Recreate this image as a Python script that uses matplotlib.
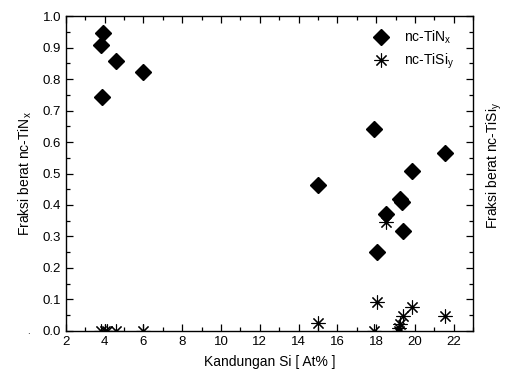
#!/usr/bin/env python3
"""Weight fraction of nc-TiN_x and nc-TiSi_y against Si content."""

import matplotlib
matplotlib.use("Agg")
import matplotlib.pyplot as plt
from matplotlib.ticker import MultipleLocator

plt.rcParams["font.family"] = ["Liberation Sans", "DejaVu Sans"]
plt.rcParams["mathtext.fontset"] = "custom"
plt.rcParams["mathtext.rm"] = "Liberation Sans"
plt.rcParams["mathtext.it"] = "Liberation Sans"

# nc-TiN_x (diamonds)
tin_si = [3.93, 3.81, 4.57, 5.97, 3.85, 14.99, 17.9, 18.48, 18.06,
          19.25, 19.34, 19.36, 19.82, 21.57]
tin_frac = [0.948, 0.908, 0.859, 0.823, 0.742, 0.464, 0.643, 0.371, 0.252,
            0.420, 0.410, 0.317, 0.509, 0.564]

# nc-TiSi_y (stars)
tisi_si = [3.8, 4.0, 4.1, 4.6, 6.0, 14.99, 17.87, 18.06, 18.5,
           19.15, 19.2, 19.25, 19.37, 19.86, 21.55]
tisi_frac = [0.0, 0.0, 0.0, 0.0, 0.0, 0.026, 0.0, 0.091, 0.345,
             0.0, 0.009, 0.021, 0.048, 0.077, 0.046]

x_ticks = [2, 4, 6, 8, 10, 12, 14, 16, 18, 20, 22]
y_ticks = [0.0, 0.1, 0.2, 0.3, 0.4, 0.5, 0.6, 0.7, 0.8, 0.9, 1.0]


def main() -> None:
    fig = plt.figure(figsize=(5.11, 3.76), dpi=100)
    ax = fig.add_axes([0.129, 0.12, 0.797, 0.837])

    ax.plot(tin_si, tin_frac, linestyle="none", marker="D", ms=8.3,
            color="black", label=r"nc-TiN$_{\mathregular{x}}$", clip_on=True)
    ax.plot(tisi_si, tisi_frac, linestyle="none", marker=(8, 2, 0), ms=10,
            mew=0.8, color="black", label=r"nc-TiSi$_{\mathregular{y}}$",
            clip_on=True)

    ax.set_xlim(2, 23)
    ax.set_ylim(0, 1.0)
    ax.set_xticks(x_ticks)
    ax.set_yticks(y_ticks)
    ax.set_yticklabels([f"{v:.1f}" for v in y_ticks])
    ax.xaxis.set_minor_locator(MultipleLocator(1))
    ax.yaxis.set_minor_locator(MultipleLocator(0.05))
    ax.tick_params(which="both", direction="in", top=True, right=True,
                   labelsize=9.5, width=0.9)
    ax.tick_params(which="major", length=5)
    ax.tick_params(which="minor", length=3)
    for spine in ax.spines.values():
        spine.set_linewidth(1.0)

    ax.set_xlabel("Kandungan Si [ At% ]", fontsize=10, labelpad=5)
    ax.set_ylabel(r"Fraksi berat nc-TiN$_{\mathregular{x}}$", fontsize=10,
                  labelpad=6)
    fig.text(0.968, 0.56, r"Fraksi berat nc-TiSi$_{\mathregular{y}}$",
             rotation=90, fontsize=10, ha="center", va="center")
    fig.text(0.055, 0.12, ".", fontsize=7, ha="center", va="center")

    ax.legend(loc="upper right", frameon=False, fontsize=10,
              handlelength=1.0, handletextpad=1.2, borderaxespad=0.5,
              labelspacing=0.4, bbox_to_anchor=(0.985, 1.0))

    fig.savefig("out.png", dpi=100)
    plt.close(fig)


if __name__ == "__main__":
    main()
